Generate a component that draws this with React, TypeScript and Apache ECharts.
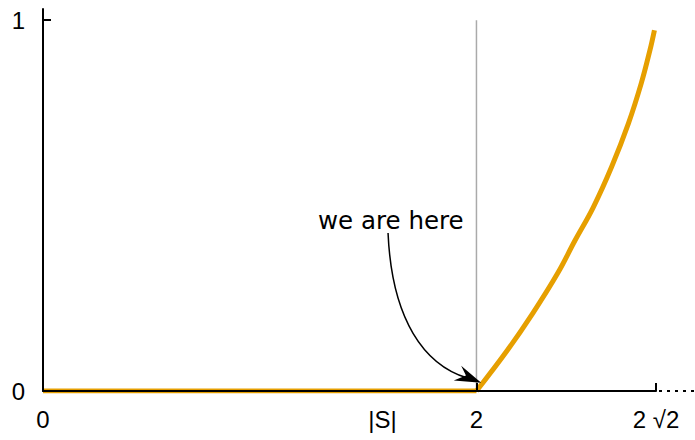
import { useEffect, useRef } from "react";
import * as echarts from "echarts";

// Axis extents and tick labels
const X_MAX = 2 * Math.SQRT2;
const S_SIZE = 1.566;
const X_LABEL_VALUES = [0, S_SIZE, 2, X_MAX];
const X_LABEL_TEXTS = ["0", "|S|", "2", "2 √2"];
const X_TICK_VALUES = [0, 2, X_MAX];
const Y_MAX = 1.03;
const Y_LABEL_VALUES = [0, 1];
const Y_LABEL_TEXTS = ["0", "1"];

// Orange curve: flat up to 2, then rising
const FLAT_X = [0, 2];
const FLAT_Y = [0, 0];
const CURVE_X = [2, 2.1435, 2.2597, 2.3746, 2.4558, 2.5384, 2.6238, 2.7013, 2.7603, 2.8005, 2.8212];
const CURVE_Y = [0, 0.1105, 0.2094, 0.3173, 0.407, 0.4946, 0.6046, 0.7216, 0.8294, 0.9191, 0.973];

// Gray marker at x = 2
const MARKER_X = [2, 2];
const MARKER_Y = [0, 1];

// Annotation
const ANNOTATION = "we are here";
const ANNOTATION_AT = [1.605, 0.461];
const ANNOTATION_TARGET = [2, 0];

const ORANGE = "#E69F00";
const AXIS_FONT = "'Liberation Sans', Arial, Helvetica, sans-serif";
const NOTE_FONT = "'DejaVu Sans', sans-serif";

const zip = (xs: number[], ys: number[]) => xs.map((x, i) => [x, ys[i]]);

const labelFor = (values: number[], texts: string[]) => (v: number) => {
  const i = values.findIndex((u) => Math.abs(u - v) < 1e-6);
  return i >= 0 ? texts[i] : "";
};

export default function App() {
  const ref = useRef<HTMLDivElement>(null);

  useEffect(() => {
    if (!ref.current) return;
    document.body.style.margin = "0";
    const chart = echarts.init(ref.current, null, { renderer: "svg" });

    chart.setOption({
      animation: false,
      backgroundColor: "#ffffff",
      grid: { left: 43, right: 39, top: 9, bottom: 49, containLabel: false },
      xAxis: {
        type: "value",
        min: 0,
        max: X_MAX,
        z: 5,
        splitLine: { show: false },
        axisLine: { show: true, onZero: false, lineStyle: { color: "#000", width: 2 } },
        axisTick: {
          show: true,
          inside: true,
          length: 8,
          customValues: X_TICK_VALUES,
          lineStyle: { color: "#000", width: 2 },
        },
        axisLabel: {
          show: true,
          customValues: X_LABEL_VALUES,
          formatter: labelFor(X_LABEL_VALUES, X_LABEL_TEXTS),
          color: "#000",
          fontSize: 24,
          fontFamily: AXIS_FONT,
          margin: 16,
          showMinLabel: true,
          showMaxLabel: true,
        },
      },
      yAxis: {
        type: "value",
        min: 0,
        max: Y_MAX,
        z: 5,
        splitLine: { show: false },
        axisLine: { show: true, onZero: false, lineStyle: { color: "#000", width: 2 } },
        axisTick: {
          show: true,
          inside: true,
          length: 8,
          customValues: Y_LABEL_VALUES,
          lineStyle: { color: "#000", width: 2 },
        },
        axisLabel: {
          show: true,
          customValues: Y_LABEL_VALUES,
          formatter: labelFor(Y_LABEL_VALUES, Y_LABEL_TEXTS),
          color: "#000",
          fontSize: 24,
          fontFamily: AXIS_FONT,
          margin: 18,
        },
      },
      series: [
        {
          type: "line",
          data: zip(MARKER_X, MARKER_Y),
          showSymbol: false,
          silent: true,
          z: 1,
          lineStyle: { color: "#aaaaaa", width: 1.5 },
        },
        {
          type: "line",
          data: zip(FLAT_X, FLAT_Y),
          showSymbol: false,
          z: 2,
          lineStyle: { color: ORANGE, width: 5 },
        },
        {
          type: "line",
          data: zip(CURVE_X, CURVE_Y),
          smooth: 0.4,
          showSymbol: false,
          z: 2,
          lineStyle: { color: ORANGE, width: 5 },
        },
      ],
    });

    const t = chart.convertToPixel({ gridIndex: 0 }, ANNOTATION_AT) as number[];
    const a = chart.convertToPixel({ gridIndex: 0 }, ANNOTATION_TARGET) as number[];
    const axisEnd = chart.convertToPixel({ gridIndex: 0 }, [X_MAX, 0]) as number[];
    const width = chart.getWidth();

    chart.setOption({
      graphic: [
        {
          type: "text",
          x: t[0],
          y: t[1],
          style: {
            text: ANNOTATION,
            fill: "#000",
            font: `24.5px ${NOTE_FONT}`,
            align: "center",
            verticalAlign: "middle",
          },
          z: 10,
        },
        {
          type: "bezierCurve",
          shape: {
            x1: t[0] - 2.8,
            y1: t[1] + 13,
            cpx1: t[0] + 1,
            cpy1: t[1] + 100,
            cpx2: a[0] - 52,
            cpy2: a[1] - 26,
            x2: a[0] - 9,
            y2: a[1] - 13,
          },
          style: { stroke: "#000", lineWidth: 1.5, fill: "none" },
          z: 10,
        },
        {
          type: "polygon",
          shape: {
            points: [
              [a[0] + 4.7, a[1] - 8.3],
              [a[0] - 22.7, a[1] - 10.5],
              [a[0] - 10.5, a[1] - 15.5],
              [a[0] - 15.3, a[1] - 25.3],
            ],
          },
          style: { fill: "#000" },
          z: 10,
        },
        {
          type: "line",
          shape: { x1: axisEnd[0] + 3, y1: axisEnd[1], x2: width, y2: axisEnd[1] },
          style: { stroke: "#000", lineWidth: 2, lineDash: [3, 5] },
          z: 10,
        },
      ],
    });

    return () => chart.dispose();
  }, []);

  return <div ref={ref} style={{ width: 695, height: 440 }} />;
}
